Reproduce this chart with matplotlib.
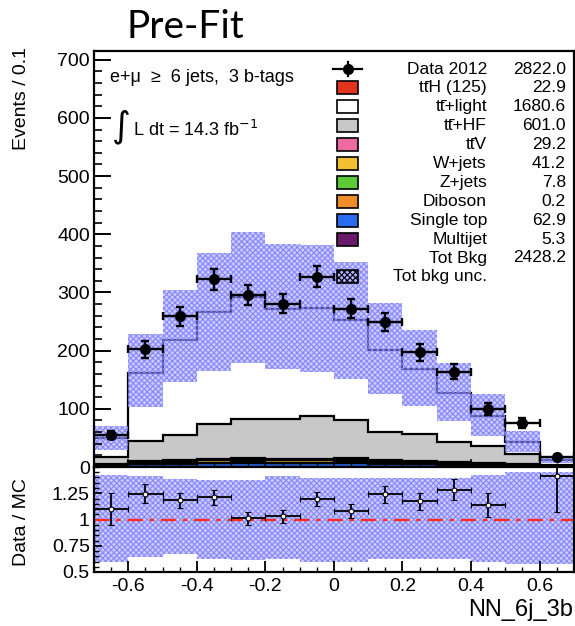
import numpy as np
import matplotlib.pyplot as plt
from matplotlib.patches import Rectangle
from matplotlib.lines import Line2D
from matplotlib.ticker import MultipleLocator

plt.rcParams['font.family'] = ['Liberation Sans', 'DejaVu Sans']
plt.rcParams['axes.unicode_minus'] = False
plt.rcParams['hatch.linewidth'] = 0.8

# binning of NN_6j_3b
edges = [-0.7, -0.6, -0.5, -0.4, -0.3, -0.2, -0.1, 0.0, 0.1, 0.2, 0.3, 0.4, 0.5, 0.6, 0.7]

# data and stacked backgrounds (events per bin)
data = [55, 202, 259, 323, 296, 281, 327, 272, 249, 197, 164, 100, 76, 17]
multijet = [0.2, 0.4, 0.4, 0.5, 0.6, 0.5, 0.5, 0.6, 0.4, 0.4, 0.3, 0.3, 0.1, 0.1]
single_top = [2.0, 4.5, 5.0, 6.0, 7.0, 6.5, 6.5, 7.0, 5.5, 4.5, 3.5, 2.5, 1.5, 0.9]
diboson = [0, 0, 0.02, 0.02, 0.03, 0.02, 0.02, 0.03, 0.02, 0.02, 0.01, 0.01, 0, 0]
z_jets = [0.3, 0.6, 0.7, 0.7, 0.7, 0.6, 0.6, 0.7, 0.6, 0.5, 0.5, 0.5, 0.4, 0.4]
w_jets = [1.5, 3.5, 3.8, 4.0, 4.2, 3.8, 3.8, 4.0, 3.2, 2.8, 2.4, 2.0, 1.5, 0.7]
ttv = [0.8, 1.8, 2.2, 2.6, 3.3, 2.7, 2.8, 3.3, 2.5, 2.2, 1.9, 1.6, 1.2, 0.3]
tt_hf = [12.2, 34.2, 42.9, 60.6, 67.2, 68.9, 73.8, 65.4, 47.8, 45.6, 34.4, 29.1, 17.3, 1.6]
tt_light = [33.0, 117.0, 164.0, 192.6, 210.0, 189.0, 185.0, 171.0, 141.0, 112.0, 85.0, 52.0, 21.0, 8.0]

# relative total background uncertainty (up / down)
unc_up = [0.42, 0.41, 0.39, 0.38, 0.38, 0.41, 0.40, 0.40, 0.40, 0.40, 0.40, 0.42, 0.45, 0.45]
unc_dn = [0.40, 0.36, 0.33, 0.38, 0.39, 0.38, 0.40, 0.40, 0.38, 0.38, 0.38, 0.40, 0.42, 0.42]

# legend
tt = 'tt\u0304'
leg_labels = ['Data 2012', tt + 'H (125)', tt + '+light', tt + '+HF', tt + 'V', 'W+jets', 'Z+jets',
              'Diboson', 'Single top', 'Multijet', 'Tot Bkg', 'Tot bkg unc.']
leg_yields = ['2822.0', '22.9', '1680.6', '601.0', '29.2', '41.2', '7.8', '0.2', '62.9', '5.3', '2428.2', '']
leg_colors = [None, '#e2341c', 'white', '#c8c8c8', '#ee6aa0', '#f2bf30', '#5ccb35', '#f08c2a', '#2a6cf0', '#6a1a6a', None, None]

xticks = [-0.6, -0.4, -0.2, 0.0, 0.2, 0.4, 0.6]
xtick_labels = ['-0.6', '-0.4', '-0.2', '0', '0.2', '0.4', '0.6']
rticks = [0.5, 0.75, 1.0, 1.25]
rtick_labels = ['0.5', '0.75', '1', '1.25']

edges = np.array(edges)
centers = 0.5 * (edges[:-1] + edges[1:])
data = np.array(data, dtype=float)
stack = [multijet, single_top, diboson, z_jets, w_jets, ttv, tt_hf, tt_light]
stack_colors = ['#6a1a6a', '#2a6cf0', '#f08c2a', '#5ccb35', '#f2bf30', '#ee6aa0', '#c8c8c8', 'white']
total = np.sum(np.array(stack), axis=0)
unc_up = np.array(unc_up)
unc_dn = np.array(unc_dn)

W, H = 575, 626
fig = plt.figure(figsize=(W / 100, H / 100), dpi=100)
fx = lambda x: x / W
fy = lambda y: 1 - y / H

ax = fig.add_axes([fx(94), fy(467), fx(575) - fx(94) - 0.002, fy(51) - fy(467)])
ax2 = fig.add_axes([fx(94), fy(572), fx(575) - fx(94) - 0.002, fy(467) - fy(572)])

# stack
base = np.zeros(len(centers))
for vals, col in zip(stack, stack_colors):
    top = base + np.array(vals)
    ax.stairs(top, edges, baseline=base, fill=True, color=col, lw=0)
    base = top
base = np.zeros(len(centers))
for vals in stack:
    top = base + np.array(vals)
    ax.stairs(top, edges, baseline=None, color='k', lw=1.6)
    base = top

band_kw = dict(fill=True, facecolor=(0.6, 0.6, 1.0, 0.5), edgecolor=(0.5, 0.5, 1.0, 0.9),
               hatch='xxxxxx', lw=0)
ax.stairs(total * (1 + unc_up), edges, baseline=total * (1 - unc_dn), **band_kw)

ax.errorbar(centers, data, xerr=0.05, yerr=np.sqrt(data), fmt='o', color='k', ms=7,
            elinewidth=1.7, capsize=3, capthick=1.7, zorder=5)

ax.set_xlim(-0.7, 0.7)
ax.set_ylim(0, 715)
ax.yaxis.set_major_locator(MultipleLocator(100))
ax.yaxis.set_minor_locator(MultipleLocator(20))
ax.xaxis.set_major_locator(MultipleLocator(0.2))
ax.xaxis.set_minor_locator(MultipleLocator(0.05))
ax.tick_params(axis='y', which='major', direction='in', length=12, width=1.4, labelsize=14, pad=3)
ax.tick_params(axis='y', which='minor', direction='in', length=6, width=1.2)
ax.tick_params(axis='x', which='major', direction='in', length=6, width=1.1, labelbottom=False)
ax.tick_params(axis='x', which='minor', direction='in', length=3, width=1.0)
for s in ax.spines.values():
    s.set_linewidth(1.6)

# ratio panel
ax2.stairs(1 + unc_up, edges, baseline=1 - unc_dn, **band_kw)
ax2.axhline(1, color='#ff2a1a', lw=1.6, ls=(0, (7, 3, 2, 3)))
ratio = data / total
ax2.errorbar(centers, ratio, xerr=0.05, yerr=np.sqrt(data) / total, fmt='o', color='k', ms=3.5,
             mfc='white', mec='k', mew=0.8, elinewidth=1.3, capsize=2.5, capthick=1.3, zorder=5)
ax2.set_xlim(-0.7, 0.7)
ax2.set_ylim(0.5, 1.5)
ax2.set_yticks(rticks)
ax2.set_yticklabels(rtick_labels)
ax2.yaxis.set_minor_locator(MultipleLocator(0.05))
ax2.set_xticks(xticks)
ax2.set_xticklabels(xtick_labels)
ax2.xaxis.set_minor_locator(MultipleLocator(0.05))
ax2.tick_params(axis='both', which='major', direction='in', length=8, width=1.3, labelsize=14, pad=4)
ax2.tick_params(axis='y', which='major', length=6, pad=3)
ax2.tick_params(axis='both', which='minor', direction='in', length=3.5, width=1.0)
for s in ax2.spines.values():
    s.set_linewidth(1.6)

# axis titles
fig.text(fx(22), fy(47), 'Events / 0.1', rotation=90, ha='center', va='top', fontsize=14)
fig.text(fx(22), fy(522), 'Data / MC', rotation=90, ha='center', va='center', fontsize=14)
fig.text(fx(573), fy(610), 'NN_6j_3b', ha='right', va='center', fontsize=17)
fig.text(fx(185), fy(27), 'Pre-Fit', ha='center', va='center', fontsize=28, family='Lato')

# labels inside the main pad
fig.text(fx(110), fy(77), 'e+\u03bc  \u2265  6 jets,  3 b-tags', ha='left', va='center', fontsize=13)
fig.text(fx(112), fy(127), '\u222b', ha='left', va='center', fontsize=26, family='DejaVu Sans')
fig.text(fx(133), fy(130), r'L dt = 14.3 fb$^{-1}$', ha='left', va='center', fontsize=13)

# legend
for i, (lab, val, col) in enumerate(zip(leg_labels, leg_yields, leg_colors)):
    yc = 69 + i * 18.9
    fig.text(fx(487), fy(yc), lab, ha='right', va='center', fontsize=12.5)
    if val:
        fig.text(fx(566), fy(yc), val, ha='right', va='center', fontsize=12.5)
    if col is not None:
        fig.add_artist(Rectangle((fx(337), fy(yc + 6.5)), fx(21), 13 / H, facecolor=col,
                                 edgecolor='k', lw=1.2, transform=fig.transFigure))
    if i == 0:
        fig.add_artist(Line2D([fx(333), fx(362)], [fy(yc), fy(yc)], color='k', lw=1.6,
                              transform=fig.transFigure))
        fig.add_artist(Line2D([fx(347.5), fx(347.5)], [fy(yc - 7), fy(yc + 7)], color='k', lw=1.6,
                              transform=fig.transFigure))
        fig.add_artist(Line2D([fx(347.5)], [fy(yc)], marker='o', ms=7, color='k',
                              transform=fig.transFigure))
    if lab == 'Tot bkg unc.':
        fig.add_artist(Rectangle((fx(337), fy(yc + 6.5)), fx(21), 13 / H, facecolor=(0.6, 0.6, 1.0, 0.5),
                                 edgecolor='k', hatch='xxxxxx', lw=1.2, transform=fig.transFigure))

fig.savefig('out.png', dpi=100)
